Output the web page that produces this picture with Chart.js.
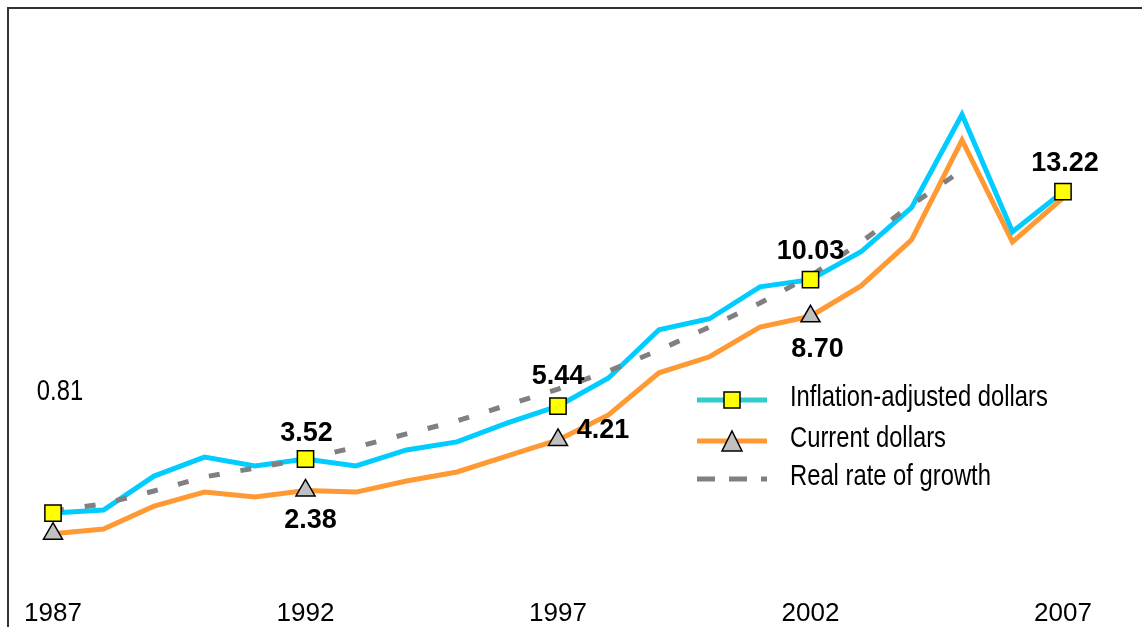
<!DOCTYPE html>
<html>
<head>
<meta charset="utf-8">
<script src="https://cdn.jsdelivr.net/npm/chart.js@4"></script>
<style>
  html, body { margin: 0; padding: 0; background: #fff; overflow: hidden; }
  #wrap { position: relative; width: 1142px; height: 627px; }
  #frame { position: absolute; left: 7px; top: 7px; width: 1300px; height: 800px;
           border-top: 2px solid #333; border-left: 2px solid #333; box-sizing: border-box; }
  #c { position: absolute; left: 0; top: 0; }
</style>
</head>
<body>
<div id="wrap">
  <div id="frame"></div>
  <canvas id="c" width="1142" height="627"></canvas>
</div>
<script>
// ---------------- data ----------------
const years = ['1987','1988','1989','1990','1991','1992','1993','1994','1995','1996','1997',
               '1998','1999','2000','2001','2002','2003','2004','2005','2006','2007'];
const tickLabels = ['1987','1992','1997','2002','2007'];
const inflationAdjusted = [1.56, 1.67, 2.90, 3.59, 3.27, 3.52, 3.27, 3.85, 4.14, 4.83, 5.44,
                           6.46, 8.21, 8.61, 9.77, 10.03, 11.04, 12.64, 16.02, 11.77, 13.22];
const currentDollars    = [0.81, 0.98, 1.81, 2.32, 2.14, 2.38, 2.32, 2.72, 3.05, 3.63, 4.21,
                           5.12, 6.65, 7.23, 8.31, 8.70, 9.80, 11.47, 15.09, 11.40, 13.00];
const realGrowth        = [1.63, 1.89, 2.36, 2.87, 3.19, 3.52, 3.95, 4.43, 4.90, 5.48, 6.06,
                           6.71, 7.47, 8.31, 9.18, 10.16, 11.39, 12.74, 14.00, null, null];
const seriesNames = ['Inflation-adjusted dollars', 'Current dollars', 'Real rate of growth'];
const inflationMarked = [0, 5, 10, 15, 20];
const currentMarked   = [0, 5, 10, 15];

// ---------------- fonts ----------------
function hasFont(name) {
  const c = document.createElement('canvas').getContext('2d');
  c.font = '40px monospace';
  const a = c.measureText('Inflation-adjusted 1987').width;
  c.font = '40px "' + name + '", monospace';
  const b = c.measureText('Inflation-adjusted 1987').width;
  return Math.abs(a - b) > 0.5;
}
const NARROW = hasFont('Liberation Sans Narrow');
const narrowFamily = NARROW ? '"Liberation Sans Narrow", "Arial Narrow", sans-serif' : '"Liberation Sans", Arial, sans-serif';
const narrowScale = NARROW ? 1 : 0.82;

function drawNarrowText(ctx, text, x, y, size, align, baseline) {
  ctx.save();
  ctx.font = size + 'px ' + narrowFamily;
  ctx.fillStyle = '#000';
  ctx.textAlign = align;
  ctx.textBaseline = baseline;
  ctx.translate(x, y);
  ctx.scale(narrowScale, 1);
  ctx.fillText(text, 0, 0);
  ctx.restore();
}

// ---------------- value labels ----------------
const valueLabelPlugin = {
  id: 'valueLabels',
  afterDatasetsDraw(chart) {
    const ctx = chart.ctx;
    const blueMeta = chart.getDatasetMeta(0);
    const orangeMeta = chart.getDatasetMeta(1);
    const specs = [
      { meta: blueMeta, arr: inflationAdjusted, i: 5,  dx: 1,  dy: -25 },
      { meta: blueMeta, arr: inflationAdjusted, i: 10, dx: 0,  dy: -30 },
      { meta: blueMeta, arr: inflationAdjusted, i: 15, dx: 0,  dy: -28 },
      { meta: blueMeta, arr: inflationAdjusted, i: 20, dx: 2,  dy: -28 },
      { meta: orangeMeta, arr: currentDollars, i: 5,  dx: 5,  dy: 30 },
      { meta: orangeMeta, arr: currentDollars, i: 10, dx: 45, dy: -9 },
      { meta: orangeMeta, arr: currentDollars, i: 15, dx: 7,  dy: 33 }
    ];
    ctx.save();
    ctx.font = 'bold 27px "Liberation Sans", Arial, sans-serif';
    ctx.fillStyle = '#000';
    ctx.textAlign = 'center';
    ctx.textBaseline = 'middle';
    specs.forEach(s => {
      const p = s.meta.data[s.i];
      ctx.fillText(s.arr[s.i].toFixed(2), p.x + s.dx, p.y + s.dy);
    });
    ctx.restore();
    // the 1987 current-dollar value, set in plain type high above its point
    const p0 = orangeMeta.data[0];
    drawNarrowText(ctx, currentDollars[0].toFixed(2), p0.x + 7, p0.y - 142, 29, 'center', 'middle');
  }
};

// ---------------- legend ----------------
const legendPlugin = {
  id: 'customLegend',
  afterDraw(chart) {
    const ctx = chart.ctx;
    const x0 = 697, x1 = 767, mx = 732, tx = 790;
    const rows = [
      { y: 400, color: '#33CCCC', dash: [], marker: 'rect', text: seriesNames[0] },
      { y: 441, color: '#FF9933', dash: [], marker: 'triangle', text: seriesNames[1] },
      { y: 479, color: '#808080', dash: [18, 14], marker: null, text: seriesNames[2] }
    ];
    rows.forEach(r => {
      ctx.save();
      ctx.strokeStyle = r.color;
      ctx.lineWidth = 5;
      ctx.setLineDash(r.dash);
      ctx.beginPath();
      ctx.moveTo(x0, r.y);
      ctx.lineTo(x1, r.y);
      ctx.stroke();
      ctx.restore();
      if (r.marker === 'rect') {
        ctx.save();
        ctx.fillStyle = '#FFFF00';
        ctx.strokeStyle = '#000';
        ctx.lineWidth = 1.5;
        ctx.fillRect(mx - 8, r.y - 8, 16, 16);
        ctx.strokeRect(mx - 8, r.y - 8, 16, 16);
        ctx.restore();
      } else if (r.marker === 'triangle') {
        ctx.save();
        ctx.fillStyle = '#C0C0C0';
        ctx.strokeStyle = '#000';
        ctx.lineWidth = 1.5;
        ctx.beginPath();
        ctx.moveTo(mx, r.y - 10);
        ctx.lineTo(mx + 10, r.y + 10);
        ctx.lineTo(mx - 10, r.y + 10);
        ctx.closePath();
        ctx.fill();
        ctx.stroke();
        ctx.restore();
      }
      drawNarrowText(ctx, r.text, tx, r.y - 2, 29, 'left', 'middle');
    });
  }
};

// ---------------- chart ----------------
const markerRadius = (marked, r) => (c) => marked.includes(c.dataIndex) ? r : 0;

new Chart(document.getElementById('c'), {
  type: 'line',
  data: {
    labels: years,
    datasets: [
      { label: seriesNames[0] + ' markers', data: inflationAdjusted, showLine: false,
        pointStyle: 'rect', pointRadius: markerRadius(inflationMarked, 11.5),
        pointBackgroundColor: '#FFFF00', pointBorderColor: '#000', pointBorderWidth: 1.5, order: 0 },
      { label: seriesNames[1] + ' markers', data: currentDollars, showLine: false,
        pointStyle: 'triangle', pointRadius: markerRadius(currentMarked, 11),
        pointBackgroundColor: '#C0C0C0', pointBorderColor: '#000', pointBorderWidth: 1.5, order: 0 },
      { label: seriesNames[2], data: realGrowth, borderColor: '#808080', borderWidth: 5,
        borderDash: [11, 21], pointRadius: 0, tension: 0, spanGaps: false, order: 1 },
      { label: seriesNames[0], data: inflationAdjusted, borderColor: '#00CCFF', borderWidth: 5,
        pointRadius: 0, tension: 0, borderJoinStyle: 'miter', order: 2 },
      { label: seriesNames[1], data: currentDollars, borderColor: '#FF9933', borderWidth: 5,
        pointRadius: 0, tension: 0, borderJoinStyle: 'miter', order: 3 }
    ]
  },
  options: {
    responsive: false,
    animation: false,
    events: [],
    layout: { padding: { left: 53, right: 79, top: 60, bottom: 0 } },
    plugins: { legend: { display: false }, tooltip: { enabled: false }, title: { display: false } },
    scales: {
      x: {
        type: 'category',
        offset: false,
        grid: { display: false, drawTicks: false },
        border: { display: false },
        ticks: {
          autoSkip: false, maxRotation: 0, minRotation: 0, padding: 21, color: '#000',
          font: { family: narrowFamily, size: NARROW ? 31 : 26, lineHeight: 2.8 },
          callback: function (v) { const l = this.getLabelForValue(v); return tickLabels.includes(l) ? l : ''; }
        },
        afterFit: (s) => { s.height = 71; }
      },
      y: { display: false, min: 0, max: 18 }
    }
  },
  plugins: [valueLabelPlugin, legendPlugin]
});
</script>
</body>
</html>
